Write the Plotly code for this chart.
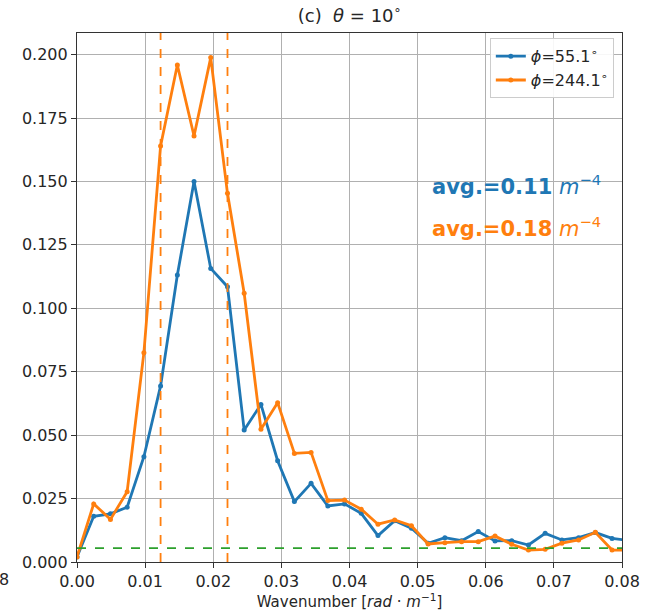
import plotly.graph_objects as go

wavenumber = [0.0, 0.00245, 0.00491, 0.00736, 0.00982, 0.01227, 0.01473, 0.01718,
              0.01963, 0.02209, 0.02454, 0.02700, 0.02945, 0.03191, 0.03436, 0.03682,
              0.03927, 0.04172, 0.04418, 0.04663, 0.04909, 0.05154, 0.05400, 0.05645,
              0.05890, 0.06136, 0.06381, 0.06627, 0.06872, 0.07118, 0.07363, 0.07609,
              0.07854, 0.08099]

phi_55 = [0.002, 0.018, 0.019, 0.0216, 0.0415, 0.0694, 0.1131, 0.150,
          0.1157, 0.1085, 0.052, 0.0621, 0.0399, 0.0238, 0.031, 0.0221,
          0.0229, 0.0192, 0.0104, 0.0163, 0.0133, 0.0074, 0.0096, 0.0084,
          0.012, 0.0083, 0.0084, 0.0067, 0.0113, 0.0087, 0.0096, 0.0116,
          0.0093, 0.0085]

phi_244 = [0.002, 0.0229, 0.0168, 0.0277, 0.0825, 0.164, 0.1959, 0.1679,
           0.1988, 0.1453, 0.1059, 0.0523, 0.0628, 0.0428, 0.0432, 0.0242,
           0.0244, 0.0208, 0.0149, 0.0166, 0.0143, 0.0071, 0.0076, 0.008,
           0.008, 0.0102, 0.007, 0.0047, 0.005, 0.0074, 0.0087, 0.0117,
           0.0047, 0.0047]

band_edges = [0.01227, 0.02209]
noise_level = 0.0055

x_ticks = [0.00, 0.01, 0.02, 0.03, 0.04, 0.05, 0.06, 0.07, 0.08]
x_tick_labels = ["0.00", "0.01", "0.02", "0.03", "0.04", "0.05", "0.06", "0.07", "0.08"]
y_ticks = [0.0, 0.025, 0.05, 0.075, 0.1, 0.125, 0.15, 0.175, 0.2]
y_tick_labels = ["0.000", "0.025", "0.050", "0.075", "0.100", "0.125", "0.150", "0.175", "0.200"]

blue = "#1f77b4"
orange = "#ff7f0e"
green = "#2ca02c"
font = "DejaVu Sans"
text_col = "#262626"

fig = go.Figure()
fig.add_trace(go.Scatter(x=wavenumber, y=phi_55, mode="lines+markers",
                         name="<i>ϕ</i>=55.1<sup>∘</sup>",
                         line=dict(color=blue, width=2.8),
                         marker=dict(size=5, color=blue), cliponaxis=True))
fig.add_trace(go.Scatter(x=wavenumber, y=phi_244, mode="lines+markers",
                         name="<i>ϕ</i>=244.1<sup>∘</sup>",
                         line=dict(color=orange, width=2.8),
                         marker=dict(size=5, color=orange), cliponaxis=True))

for xe in band_edges:
    fig.add_shape(type="line", xref="x", yref="paper", x0=xe, x1=xe, y0=0, y1=1,
                  line=dict(color=orange, width=1.8, dash="dash"), layer="above")
fig.add_shape(type="line", xref="paper", yref="y", x0=0, x1=1, y0=noise_level, y1=noise_level,
              line=dict(color=green, width=1.8, dash="dash"), layer="above")

axis_common = dict(showgrid=True, gridcolor="#b0b0b0", gridwidth=1,
                   showline=True, linecolor="#333333", linewidth=1.2, mirror=True,
                   ticks="outside", ticklen=5, tickcolor="#333333", zeroline=False,
                   automargin=False,
                   tickfont=dict(family=font, size=16, color=text_col))

fig.update_xaxes(range=[0, 0.08], tickvals=x_ticks, ticktext=x_tick_labels,
                 title=dict(text="Wavenumber [<i>rad</i> · <i>m</i><sup>−1</sup>]",
                            font=dict(family=font, size=15, color=text_col), standoff=4),
                 **axis_common)
fig.update_yaxes(range=[0, 0.2085], tickvals=y_ticks, ticktext=y_tick_labels, **axis_common)

fig.add_annotation(xref="paper", yref="paper", x=0.965, y=0.713, xanchor="right", yanchor="middle",
                   text="<b>avg.=0.11</b> <i>m</i><sup>−4</sup>", showarrow=False,
                   font=dict(family=font, size=21, color=blue))
fig.add_annotation(xref="paper", yref="paper", x=0.965, y=0.633, xanchor="right", yanchor="middle",
                   text="<b>avg.=0.18</b> <i>m</i><sup>−4</sup>", showarrow=False,
                   font=dict(family=font, size=21, color=orange))
# stray tick label from neighbouring panel at the left edge
fig.add_annotation(xref="paper", yref="paper", x=-0.121, y=-0.012, xanchor="right", yanchor="top",
                   text="8", showarrow=False, font=dict(family=font, size=16, color=text_col))

fig.update_layout(
    width=651, height=611,
    margin=dict(l=77, r=29, t=33, b=49, autoexpand=False),
    paper_bgcolor="white", plot_bgcolor="white",
    title=dict(text="(c)  <i>θ</i> = 10<sup>∘</sup>", x=0.537, xanchor="center",
               y=0.975, yanchor="middle", font=dict(family=font, size=18, color=text_col)),
    legend=dict(x=0.985, y=0.99, xanchor="right", yanchor="top",
                bgcolor="rgba(255,255,255,0.9)", bordercolor="#cccccc", borderwidth=1,
                font=dict(family=font, size=16, color=text_col), tracegroupgap=2),
    showlegend=True,
)

fig.write_html("out.html")
